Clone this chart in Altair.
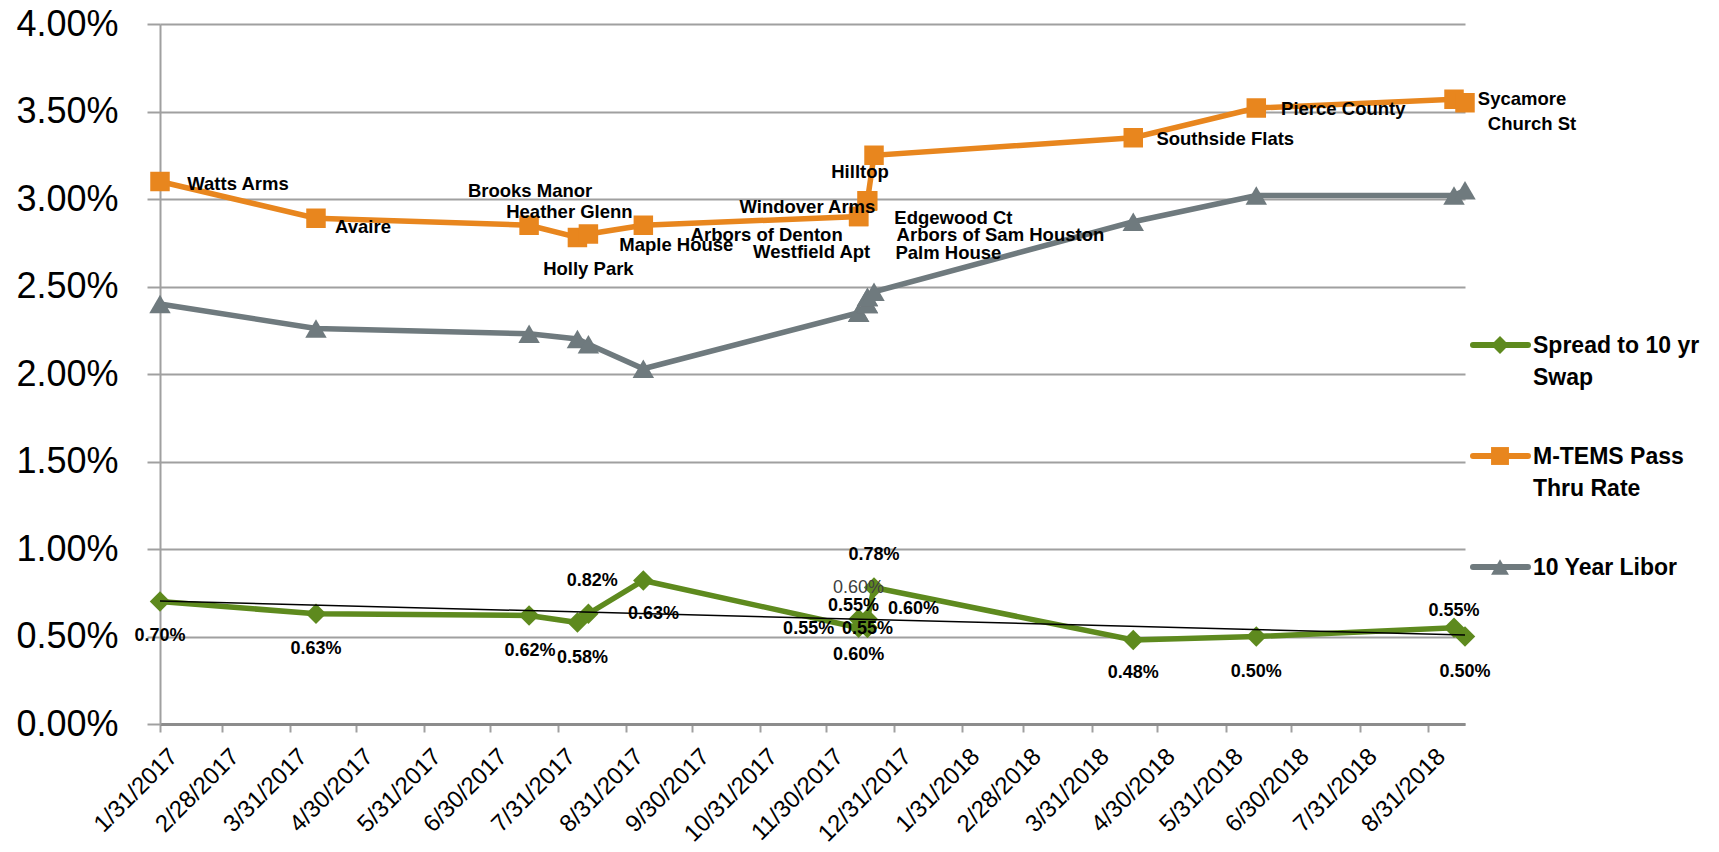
import altair as alt
import pandas as pd

# ---------------- data ----------------
names = ["Watts Arms", "Avaire", "Brooks Manor", "Holly Park", "Heather Glenn",
         "Maple House", "Arbors of Denton", "Westfield Apt", "Windover Arms",
         "Edgewood Ct", "Arbors of Sam Houston", "Palm House", "Hilltop",
         "Southside Flats", "Pierce County", "Sycamore", "Church St"]
dates = ["01/31/2017", "04/12/2017", "07/18/2017", "08/09/2017", "08/14/2017",
         "09/08/2017", "12/15/2017", "12/15/2017", "12/19/2017", "12/19/2017",
         "12/19/2017", "12/19/2017", "12/22/2017", "04/19/2018", "06/14/2018",
         "09/12/2018", "09/17/2018"]
pass_rate = [3.10, 2.89, 2.85, 2.78, 2.80, 2.85, 2.90, 2.90, 2.99, 2.99, 2.99,
             2.99, 3.25, 3.35, 3.52, 3.57, 3.55]
spread = [0.70, 0.63, 0.62, 0.58, 0.63, 0.82, 0.55, 0.60, 0.55, 0.55, 0.60,
          0.60, 0.78, 0.48, 0.50, 0.55, 0.50]
libor = [2.40, 2.26, 2.23, 2.20, 2.17, 2.03, 2.35, 2.35, 2.40, 2.40, 2.44,
         2.44, 2.47, 2.87, 3.02, 3.02, 3.05]

series_names = ["Spread to 10 yr\nSwap", "M-TEMS Pass\nThru Rate", "10 Year Libor"]
tick_dates = ["01/31/2017", "02/28/2017", "03/31/2017", "04/30/2017", "05/31/2017",
              "06/30/2017", "07/31/2017", "08/31/2017", "09/30/2017", "10/31/2017",
              "11/30/2017", "12/31/2017", "01/31/2018", "02/28/2018", "03/31/2018",
              "04/30/2018", "05/31/2018", "06/30/2018", "07/31/2018", "08/31/2018"]
x_domain = ["01/31/2017", "09/17/2018"]
y_ticks = [0, 0.5, 1.0, 1.5, 2.0, 2.5, 3.0, 3.5, 4.0]

# ---------------- style ----------------
GREEN = "#5E8A1E"
ORANGE = "#E8861E"
GRAY = "#6F7A7E"
GRID = "#A0A0A0"
FONT = "Liberation Sans"
series_colors = [GREEN, ORANGE, GRAY]
series_shapes = ["diamond", "square", "triangle-up"]

# label placement offsets (pixels)
pass_dx = [78, 47, 1, 11, -19, 33, -92, -47, -60, 86, 133, 81, -14, 92, 87, 68, 67]
pass_dy = [2, 9, -34, 31, -22, 20, 18, 35, 6, 17, 34, 52, 17, 1, 1, 0, 21]
spread_dx = [0, 0, 1, 5, 65, -51, -50, 0, 0, -14, -9, 46, 0, 0, 0, 0, 0]
spread_dy = [34, 35, 35, 35, 0, 0, 1, 36, 1, -22, -31, -10, -33, 33, 35, -17, 35]
spread_light = [10]  # index of the one lighter label


def to_dt(s):
    m, d, y = s.split("/")
    return alt.DateTime(year=int(y), month=int(m), date=int(d))


df = pd.DataFrame({
    "i": list(range(len(names))),
    "name": names,
    "date": dates,
    "pass": pass_rate,
    "spread": spread,
    "libor": libor,
})

x_scale = alt.Scale(domain=[to_dt(s) for s in x_domain], nice=False)
x_axis = alt.Axis(
    values=[to_dt(s) for s in tick_dates],
    format="%-m/%-d/%Y",
    labelAngle=-45,
    labelFontSize=24,
    labelFont=FONT,
    labelColor="black",
    labelPadding=12,
    labelOffset=5,
    tickSize=8,
    tickColor=GRID,
    tickWidth=2,
    domainColor="#8C8C8C",
    domainWidth=3,
    grid=False,
    title=None,
    labelOverlap=False,
)
x_enc = alt.X("date:T", scale=x_scale, axis=x_axis)

y_scale = alt.Scale(domain=[0, 4], nice=False)
y_axis = alt.Axis(
    values=y_ticks,
    labelExpr="format(datum.value, '.2f') + '%'",
    labelFontSize=36,
    labelFont=FONT,
    labelColor="black",
    labelPadding=29,
    tickSize=13,
    tickColor=GRID,
    tickWidth=2,
    domainColor=GRID,
    domainWidth=2,
    gridColor=GRID,
    gridWidth=2,
    title=None,
)


def yenc(field):
    return alt.Y(f"{field}:Q", scale=y_scale, axis=y_axis)


base = alt.Chart(df)


def series_layers(field, color, shape, size):
    line = base.mark_line(color=color, strokeWidth=5.5).encode(
        x=x_enc, y=yenc(field), order=alt.Order("i:Q"))
    pts = base.mark_point(shape=shape, filled=True, opacity=1, size=size,
                          color=color).encode(x=x_enc, y=yenc(field))
    return [line, pts]


layers = []
layers += series_layers("spread", GREEN, "diamond", 420)
trend = base.transform_calculate(ts="+toDate(datum.date)").transform_regression(
    "ts", "spread").mark_line(color="black", strokeWidth=1.5).encode(
    x=alt.X("ts:T", scale=x_scale, axis=x_axis),
    y=yenc("spread"),
)
layers.append(trend)
layers += series_layers("pass", ORANGE, "square", 380)
layers += series_layers("libor", GRAY, "triangle-up", 460)

# data labels
for k in range(len(names)):
    layers.append(
        base.transform_filter(f"datum.i == {k}").mark_text(
            dx=pass_dx[k], dy=pass_dy[k], fontSize=18.5, fontWeight="bold",
            font=FONT, color="black", align="center", baseline="middle",
        ).encode(x=x_enc, y=yenc("pass"), text="name:N")
    )
for k in range(len(names)):
    light = k in spread_light
    layers.append(
        base.transform_filter(f"datum.i == {k}").transform_calculate(
            lab="format(datum.spread, '.2f') + '%'"
        ).mark_text(
            dx=spread_dx[k], dy=spread_dy[k], fontSize=18,
            fontWeight="normal" if light else "bold",
            font=FONT, color="#404040" if light else "black",
            align="center", baseline="middle",
        ).encode(x=x_enc, y=yenc("spread"), text="lab:N")
    )

main = alt.layer(*layers).properties(width=1305, height=700)

# ---------------- legend ----------------
leg_df = pd.DataFrame({"series": series_names})
leg_y = alt.Y("series:N", scale=alt.Scale(type="point", domain=series_names,
                                          range=[321, 543], padding=0), axis=None)
leg_color = alt.Color("series:N", scale=alt.Scale(domain=series_names,
                                                   range=series_colors), legend=None)
leg_shape = alt.Shape("series:N", scale=alt.Scale(domain=series_names,
                                                   range=series_shapes), legend=None)
leg_base = alt.Chart(leg_df)
leg_rule = leg_base.mark_rule(strokeWidth=6, strokeCap="round").encode(
    x=alt.value(8), x2=alt.value(63), y=leg_y, color=leg_color)
leg_pt = leg_base.mark_point(filled=True, opacity=1, size=320).encode(
    x=alt.value(35), y=leg_y, color=leg_color, shape=leg_shape)
leg_txt = leg_base.mark_text(
    align="left", baseline="alphabetic", dy=8, fontSize=23, fontWeight="bold",
    font=FONT, color="black", lineBreak="\n", lineHeight=32,
).encode(x=alt.value(68), y=leg_y, text="series:N")
legend = alt.layer(leg_rule, leg_pt, leg_txt).properties(width=250, height=700)

chart = alt.hconcat(main, legend, spacing=0, bounds="flush").properties(
    padding={"left": 15, "top": 6, "right": 0, "bottom": 0},
    background="white",
).configure_view(stroke=None)

chart.save("out.html", embed_options={"renderer": "svg", "actions": False})
